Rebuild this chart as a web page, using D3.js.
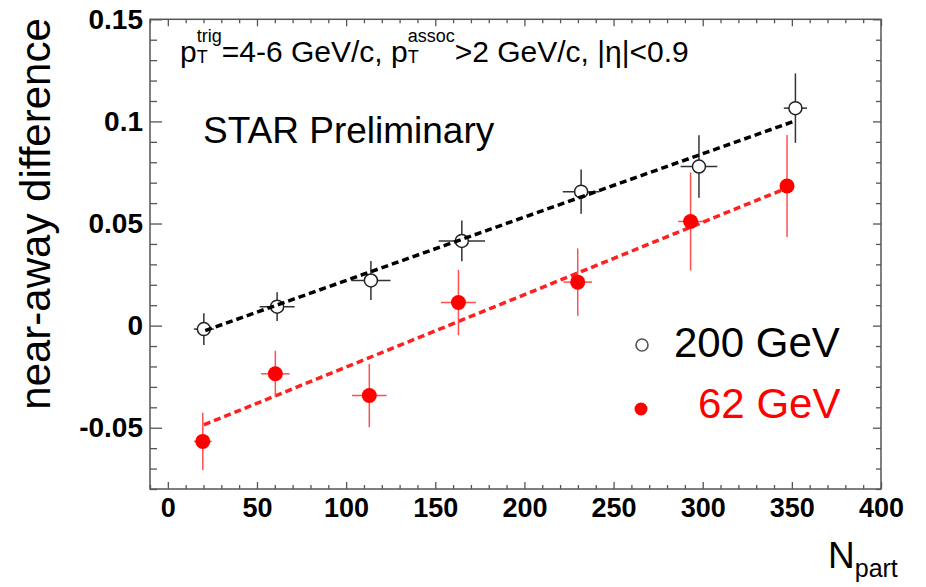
<!DOCTYPE html>
<html>
<head>
<meta charset="utf-8">
<script src="https://cdn.jsdelivr.net/npm/d3@7/dist/d3.min.js"></script>
<style>
  html, body { margin: 0; padding: 0; background: #fff; }
  svg { display: block; }
  text { font-family: "Liberation Sans", Arial, Helvetica, sans-serif; white-space: pre; }
</style>
</head>
<body>
<svg id="chart" width="926" height="587"></svg>
<script>
// ---- data ----
const xTickValues = [0, 50, 100, 150, 200, 250, 300, 350, 400];
const xTickLabels = ["0", "50", "100", "150", "200", "250", "300", "350", "400"];
const yTickValues = [-0.05, 0, 0.05, 0.1, 0.15];
const yTickLabels = ["-0.05", "0", "0.05", "0.1", "0.15"];

const npart200 = [20.2, 61.3, 113.9, 164.9, 231.8, 297.9, 352.0];
const val200   = [-0.0017, 0.0093, 0.0221, 0.0415, 0.0656, 0.0779, 0.1065];
const errY200  = [0.0078, 0.0070, 0.0095, 0.0100, 0.0108, 0.0153, 0.0170];
const errX200  = [5.6, 9.8, 11, 13, 10.3, 10.3, 6.5];

const npart62 = [19.6, 60.3, 113.0, 163.0, 229.9, 293.2, 347.3];
const val62   = [-0.0567, -0.0236, -0.0342, 0.0113, 0.0213, 0.0510, 0.0684];
const errY62  = [0.0140, 0.0113, 0.0155, 0.0160, 0.0165, 0.0240, 0.0250];
const errX62  = [5, 8, 9.7, 9.8, 8, 7, 3];

const fitX200 = [21, 350.7];
const fitY200 = [-0.0024, 0.0999];
const fitX62  = [20.2, 347];
const fitY62  = [-0.0486, 0.0673];

const seriesNames = ["200 GeV", "62 GeV"];

// ---- layout ----
const svg = d3.select("#chart");
const L = 150, R = 881, T = 19.3, B = 489;
const x = d3.scaleLinear().domain([-10, 400]).range([L, R]);
const y = d3.scaleLinear().domain([-0.08, 0.15]).range([B, T]);
const axisColor = "#555";

const xMinor = d3.range(-10, 401, 10).filter(v => v % 50 !== 0);
const yMinor = d3.range(-8, 16, 1).map(v => v / 100).filter(v => Math.abs(Math.round(v * 100) % 5) !== 0);

function styleAxis(g) {
  g.select(".domain").remove();
  g.selectAll("line").attr("stroke", axisColor).attr("stroke-width", 1.3);
}

// bottom
svg.append("g").attr("transform", `translate(0,${B})`)
  .call(d3.axisBottom(x).tickValues(xMinor).tickSize(-4).tickFormat(""))
  .call(styleAxis);
svg.append("g").attr("transform", `translate(0,${B})`)
  .call(d3.axisBottom(x).tickValues(xTickValues).tickSize(-7).tickPadding(9)
    .tickFormat((d, i) => xTickLabels[i]))
  .call(styleAxis)
  .call(g => g.selectAll("text").attr("fill", "#000").attr("font-size", 27).attr("font-weight", "bold"));
// top
svg.append("g").attr("transform", `translate(0,${T})`)
  .call(d3.axisTop(x).tickValues(xMinor).tickSize(-4).tickFormat(""))
  .call(styleAxis);
svg.append("g").attr("transform", `translate(0,${T})`)
  .call(d3.axisTop(x).tickValues(xTickValues).tickSize(-7).tickFormat(""))
  .call(styleAxis);
// left
svg.append("g").attr("transform", `translate(${L},0)`)
  .call(d3.axisLeft(y).tickValues(yMinor).tickSize(-7).tickFormat(""))
  .call(styleAxis);
svg.append("g").attr("transform", `translate(${L},0)`)
  .call(d3.axisLeft(y).tickValues(yTickValues).tickSize(-12).tickPadding(7)
    .tickFormat((d, i) => yTickLabels[i]))
  .call(styleAxis)
  .call(g => g.selectAll("text").attr("fill", "#000").attr("font-size", 28).attr("font-weight", "bold"));
// right
svg.append("g").attr("transform", `translate(${R},0)`)
  .call(d3.axisRight(y).tickValues(yMinor).tickSize(-5).tickFormat(""))
  .call(styleAxis);
svg.append("g").attr("transform", `translate(${R},0)`)
  .call(d3.axisRight(y).tickValues(yTickValues).tickSize(-8).tickFormat(""))
  .call(styleAxis);

// frame
svg.append("rect").attr("x", L).attr("y", T).attr("width", R - L).attr("height", B - T)
  .attr("fill", "none").attr("stroke", axisColor).attr("stroke-width", 1.5);

// axis titles
svg.append("text")
  .attr("transform", "translate(50,214) rotate(-90)")
  .attr("text-anchor", "middle").attr("font-size", 42).attr("fill", "#000")
  .text("near-away difference");

const nt = svg.append("text").attr("x", 828).attr("y", 568).attr("fill", "#000");
nt.append("tspan").attr("font-size", 37).text("N");
nt.append("tspan").attr("font-size", 25).attr("dy", 9).text("part");

// annotations
svg.append("text").attr("x", 203).attr("y", 143).attr("font-size", 37).attr("fill", "#000")
  .text("STAR Preliminary");

(function () {
  const base = 62;
  const big = 30, small = 18;
  let cx = 180;
  const g = svg.append("g");
  function piece(txt, size, dy) {
    const t = g.append("text").attr("x", cx).attr("y", base + dy)
      .attr("font-size", size).attr("fill", "#000").text(txt);
    return t.node().getComputedTextLength();
  }
  function pT(sup) {
    const w1 = piece("p", big, 0); cx += w1;
    const w2 = piece("T", small, 1);
    const w3 = piece(sup, small, -20);
    cx += Math.max(w2, w3);
  }
  pT("trig");
  cx += piece("=4-6 GeV/c,\u00a0", big, 0);
  pT("assoc");
  cx += piece(">2 GeV/c, |\u03b7|<0.9", big, 0);
})();

// error bars & markers
const line = d3.line().x(d => x(d[0])).y(d => y(d[1]));
function drawSeries(xs, ys, ex, ey, color, barColor, filled) {
  const g = svg.append("g");
  const data = xs.map((v, i) => ({ x: v, y: ys[i], ex: ex[i], ey: ey[i] }));
  g.selectAll(".v").data(data).join("line")
    .attr("x1", d => x(d.x)).attr("x2", d => x(d.x))
    .attr("y1", d => y(d.y - d.ey)).attr("y2", d => y(d.y + d.ey))
    .attr("stroke", barColor).attr("stroke-width", 1.5);
  g.selectAll(".h").data(data).join("line")
    .attr("x1", d => x(d.x - d.ex)).attr("x2", d => x(d.x + d.ex))
    .attr("y1", d => y(d.y)).attr("y2", d => y(d.y))
    .attr("stroke", barColor).attr("stroke-width", 1.5);
  g.selectAll("circle").data(data).join("circle")
    .attr("cx", d => x(d.x)).attr("cy", d => y(d.y))
    .attr("r", filled ? 7.5 : 6.5)
    .attr("fill", filled ? color : "#fff")
    .attr("stroke", color).attr("stroke-width", filled ? 0 : 1.5);
}
svg.append("path").datum(d3.zip(fitX62, fitY62)).attr("d", line)
  .attr("fill", "none").attr("stroke", "#ff2020").attr("stroke-width", 3.5).attr("stroke-dasharray", "7,4");
drawSeries(npart62, val62, errX62, errY62, "#ff0000", "#ff5050", true);
drawSeries(npart200, val200, errX200, errY200, "#222", "#333", false);
svg.append("path").datum(d3.zip(fitX200, fitY200)).attr("d", line)
  .attr("fill", "none").attr("stroke", "#000").attr("stroke-width", 3.5).attr("stroke-dasharray", "7,4");

// legend
const leg = svg.append("g");
leg.append("circle").attr("cx", 642).attr("cy", 345).attr("r", 6)
  .attr("fill", "#fff").attr("stroke", "#555").attr("stroke-width", 1.6);
leg.append("text").attr("x", 674).attr("y", 357).attr("font-size", 42).attr("fill", "#000")
  .text(seriesNames[0]);
leg.append("circle").attr("cx", 641).attr("cy", 409).attr("r", 6.5).attr("fill", "#ff0000");
leg.append("text").attr("x", 698).attr("y", 418).attr("font-size", 42).attr("fill", "#ff0000")
  .text(seriesNames[1]);
</script>
</body>
</html>
